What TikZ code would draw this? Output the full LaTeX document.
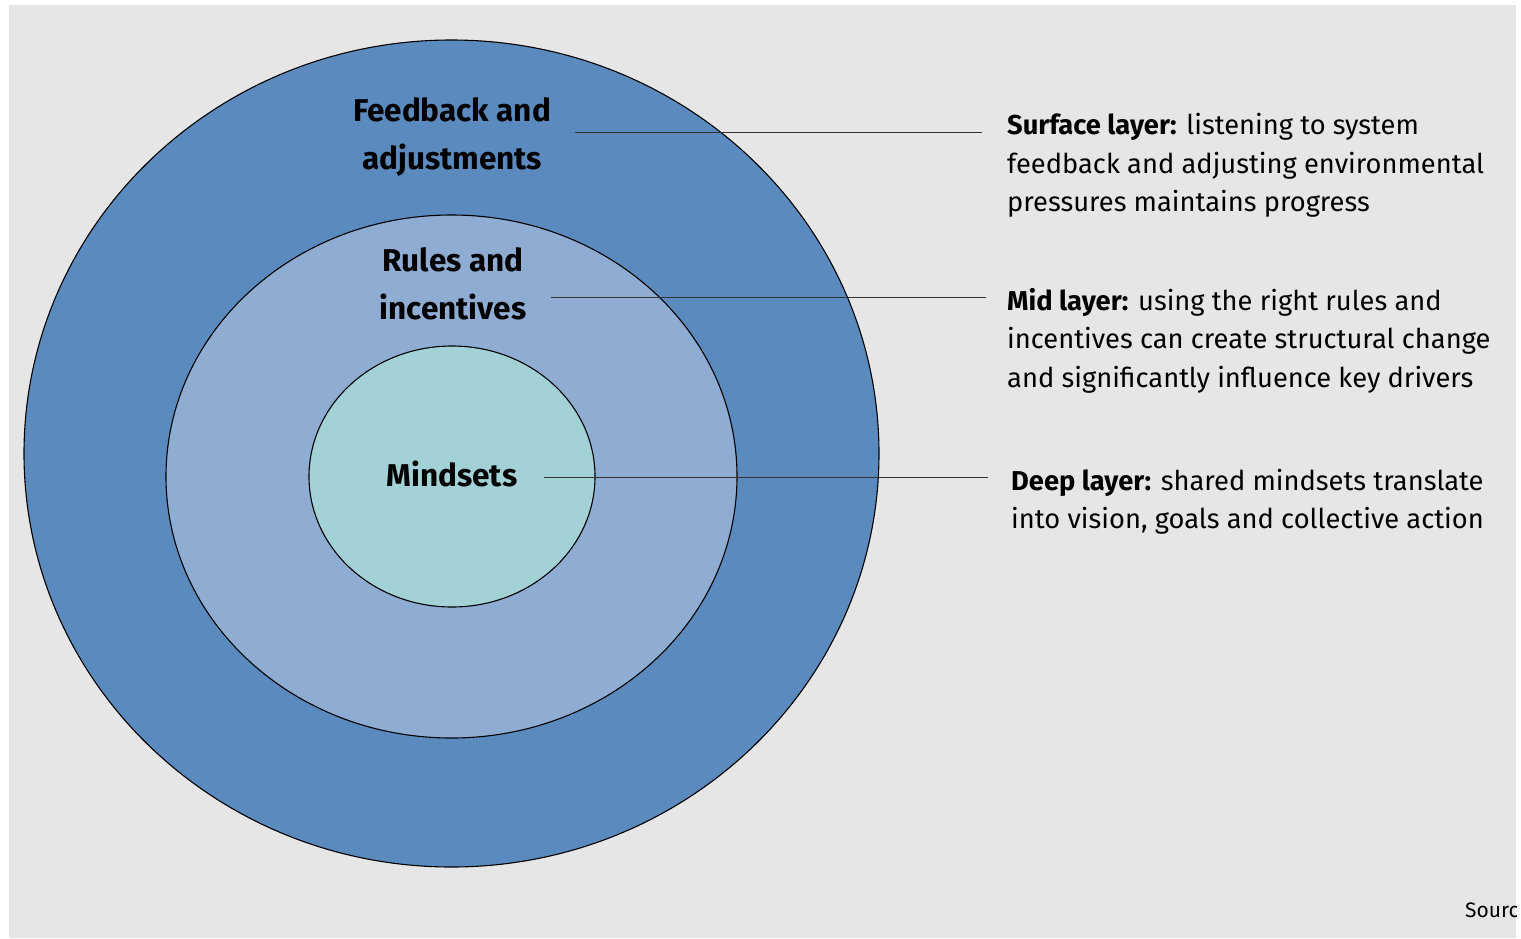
\documentclass[tikz,border=0pt]{standalone}
\usepackage{fontspec}
\setmainfont{Fira Sans}
\definecolor{bg}{HTML}{E6E6E6}
\definecolor{outerc}{HTML}{5B8BBE}
\definecolor{midc}{HTML}{8FACD2}
\definecolor{innerc}{HTML}{A2D1D6}
\definecolor{linec}{HTML}{333333}
\tikzset{
  layer/.style={draw=black, line width=1.1pt},
  lbl/.style={inner sep=0pt, align=center, font=\fontsize{31.5}{48}\selectfont\bfseries},
  desc/.style={inner sep=0pt, align=left, anchor=west, font=\fontsize{27.3}{38.5}\selectfont},
  leader/.style={draw=linec, line width=1pt}
}
\begin{document}
\begin{tikzpicture}[x=1pt,y=1pt]
\useasboundingbox (0,0) rectangle (1521,-938);
\fill[bg] (9,-5) rectangle (1516,-938);
\path[layer, fill=outerc] (451.5,-453.5) ellipse [x radius=427.5, y radius=413.5];
\path[layer, fill=midc] (451.5,-476.5) ellipse [x radius=285.5, y radius=261.5];
\path[layer, fill=innerc] (452,-476.5) ellipse [x radius=143, y radius=130.5];
\node[lbl] (fb) at (452,-137) {Feedback and\\adjustments};
\node[lbl] (ri) at (453,-284) {Rules and\\incentives};
\node[lbl] (mi) at (452,-473.5) {Mindsets};
\node[desc] (surf) at (1007,-165.5) {\textbf{Surface layer:} listening to system\\feedback and adjusting environmental\\pressures maintains progress};
\node[desc] (midl) at (1007,-340.5) {\textbf{Mid layer:} using the right rules and\\incentives can create structural change\\and significantly influence key drivers};
\node[desc] (deep) at (1011,-502) {\textbf{Deep layer:} shared mindsets translate\\into vision, goals and collective action};
\coordinate (a1) at (575,-132); \coordinate (b1) at (982,-132);
\coordinate (a2) at (551,-297); \coordinate (b2) at (986,-297);
\coordinate (a3) at (544,-477); \coordinate (b3) at (988,-477);
\draw[leader] (a1) -- (b1);
\draw[leader] (a2) -- (b2);
\draw[leader] (a3) -- (b3);
\begin{scope}
\clip (9,-5) rectangle (1516,-938);
\node[inner sep=0pt, anchor=base west, font=\fontsize{21}{24}\selectfont] (src) at (1465,-917) {Source};
\end{scope}
\end{tikzpicture}
\end{document}
